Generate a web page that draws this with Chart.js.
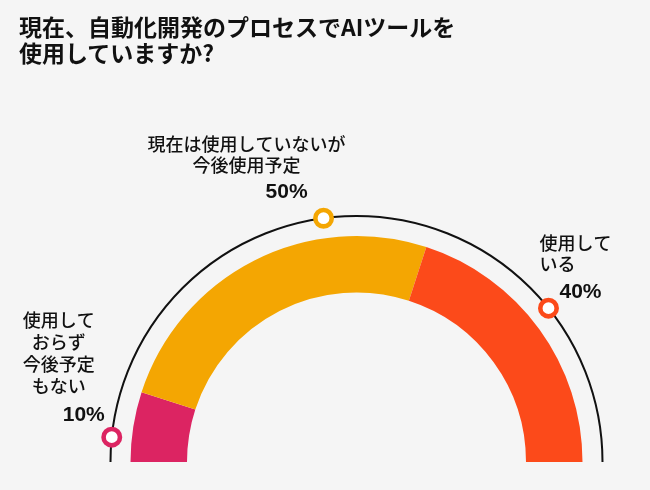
<!DOCTYPE html>
<html lang="ja">
<head>
<meta charset="utf-8">
<title>AIツール使用状況</title>
<script src="https://cdn.jsdelivr.net/npm/chart.js@4.4.1/dist/chart.umd.min.js"></script>
<style>
    html, body { margin: 0; padding: 0; background: #f5f5f5; }
    .wrap { position: relative; width: 650px; height: 490px; }
    .title {
        position: absolute; left: 19px; top: 13px; margin: 0;
        font-family: "Noto Sans CJK JP", sans-serif; font-weight: 700;
        font-size: 23px; line-height: 26px; color: #111;
    }
    canvas { position: absolute; left: 0; top: 0; }
</style>
</head>
<body>
<div class="wrap">
    <canvas id="aiChart" width="650" height="490"></canvas>
    <h1 class="title">現在、自動化開発のプロセスでAIツールを<br>使用していますか?</h1>
</div>
<script>
// Data
const categories = ['使用しておらず今後予定もない', '現在は使用していないが今後使用予定', '使用している'];
const values = [10, 50, 40];
const labelLines = [
    ['使用して', 'おらず', '今後予定', 'もない'],
    ['現在は使用していないが', '今後使用予定'],
    ['使用して', 'いる']
];
const colors = ['#dc2462', '#f4a602', '#fc4a1a'];

// Marker placement on outer ring (degrees above the right horizontal) and text offsets
const markerDeg = [174.2, 97.7, 38.7];
const textLayout = [
    { align: 'center', pct: [-28, -22], lbl: [-53, -117], lh: 22 },
    { align: 'center', pct: [-37, -26], lbl: [-77, -74], lh: 21 },
    { align: 'left', pct: [11, -16], lbl: [-9, -65], lh: 21 }
];

const ringPlugin = {
    id: 'ringLabels',
    afterDraw(chart) {
        const ctx = chart.ctx;
        const arc = chart.getDatasetMeta(0).data[0];
        const cx = arc.x, cy = arc.y;
        const r = arc.outerRadius + 20;

        ctx.save();
        // outer thin arc
        ctx.beginPath();
        ctx.arc(cx, cy, r, Math.PI, 2 * Math.PI);
        ctx.lineWidth = 2;
        ctx.strokeStyle = '#111';
        ctx.stroke();

        values.forEach((v, i) => {
            const a = markerDeg[i] * Math.PI / 180;
            const mx = cx + r * Math.cos(a);
            const my = cy - r * Math.sin(a);

            ctx.beginPath();
            ctx.arc(mx, my, 8.2, 0, 2 * Math.PI);
            ctx.fillStyle = '#ffffff';
            ctx.fill();
            ctx.lineWidth = 4.6;
            ctx.strokeStyle = colors[i];
            ctx.stroke();

            const t = textLayout[i];
            ctx.fillStyle = '#111';
            ctx.textBaseline = 'middle';
            ctx.textAlign = t.align;

            ctx.font = '500 18px "Noto Sans CJK JP", sans-serif';
            labelLines[i].forEach((line, k) => {
                ctx.fillText(line, mx + t.lbl[0], my + t.lbl[1] + k * t.lh);
            });

            ctx.font = 'bold 21px "Liberation Sans", Arial, sans-serif';
            ctx.fillText(v + '%', mx + t.pct[0], my + t.pct[1]);
        });
        ctx.restore();
    }
};

const chartInstance = new Chart(document.getElementById('aiChart'), {
    type: 'doughnut',
    data: {
        labels: categories,
        datasets: [{
            data: values,
            backgroundColor: colors,
            borderWidth: 0,
            hoverOffset: 0
        }]
    },
    options: {
        responsive: false,
        animation: false,
        rotation: -90,
        circumference: 180,
        cutout: '75%',
        layout: {
            padding: { left: 130, right: 67, top: 236, bottom: 28 }
        },
        plugins: {
            legend: { display: false },
            tooltip: { enabled: false }
        }
    },
    plugins: [ringPlugin]
});
</script>
</body>
</html>
